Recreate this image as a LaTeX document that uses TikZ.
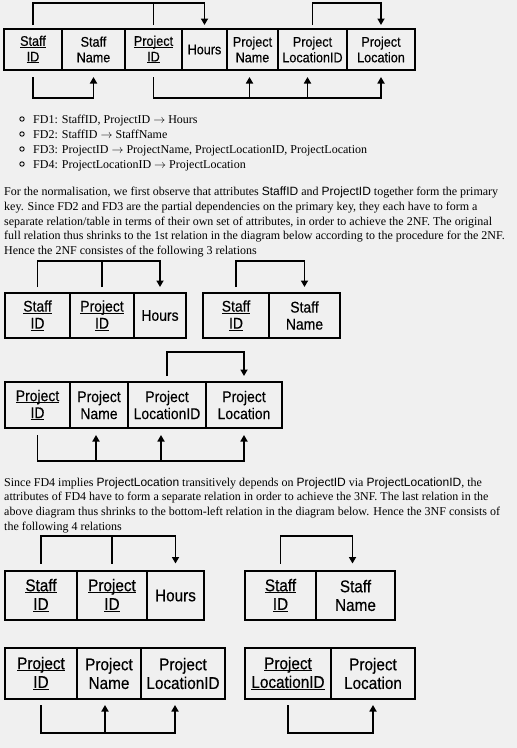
\documentclass[tikz,border=0pt]{standalone}
\usepackage{xcolor}
\usepackage{fontspec}
\setmainfont{Liberation Serif}
\setsansfont{Liberation Sans}
\newfontfamily\cellfont[FakeStretch=0.9,FakeBold=0.4]{Liberation Sans}
\usetikzlibrary{positioning,calc,arrows.meta}

\definecolor{pagebg}{RGB}{240,240,240}

% key attributes are underlined at a fixed depth
\newsavebox\keybox
\newcommand\keyattr[1]{\sbox\keybox{#1}\rlap{\rule[-0.13em]{\wd\keybox}{0.065em}}\usebox\keybox}
\newcommand\fdto{\ $\rightarrow$\ }

\tikzset{
  cell/.style={draw, line width=2pt, inner sep=0pt, outer sep=0pt, align=center},
  fd/.style={line width=1.8pt, -{Triangle[length=6.5pt,width=7pt]}},
  fdline/.style={line width=1.8pt},
  textline/.style={anchor=base west, inner sep=0pt, font=\fontsize{12}{14}\selectfont},
}

\begin{document}
\begin{tikzpicture}[x=1pt, y=-1pt]
  \fill[pagebg] (0,0) rectangle (517,748);
  \useasboundingbox (0,0) rectangle (517,748);

  % full relation
  \begin{scope}[cell/.append style={minimum height=41pt, font=\cellfont\fontsize{14}{15.6}\selectfont}]
    \node[cell, minimum width=58pt, anchor=west] (sid) at (4,49.5) {\keyattr{Staff}\\\keyattr{ID}};
    \node[cell, minimum width=63pt, right=0pt of sid] (snm) {Staff\\Name};
    \node[cell, minimum width=57pt, right=0pt of snm] (pid) {\keyattr{Project}\\\keyattr{ID}};
    \node[cell, minimum width=45pt, right=0pt of pid] (hrs) {Hours};
    \node[cell, minimum width=51pt, right=0pt of hrs] (pnm) {Project\\Name};
    \node[cell, minimum width=69pt, right=0pt of pnm] (plid) {Project\\LocationID};
    \node[cell, minimum width=68pt, right=0pt of plid] (ploc) {Project\\Location};
  \end{scope}
  \draw[fd, shorten <=4pt, shorten >=4pt] (sid.north) -- ++(0,-26) -| (hrs.north);
  \draw[fdline, shorten <=4pt] (pid.north) -- ++(0,-26);
  \draw[fd, shorten <=4pt, shorten >=4pt] (plid.north) -- ++(0,-26) -| (ploc.north);
  \draw[fd, shorten <=7pt, shorten >=7pt] (sid.south) -- ++(0,28) -| (snm.south);
  \draw[fd, shorten <=7pt, shorten >=7pt] (pid.south) -- ++(0,28) -| (ploc.south);
  \draw[fd, shorten >=7pt] ($(pnm.south)+(-3,28)$) -- ($(pnm.south)+(-3,0)$);
  \draw[fd, shorten >=7pt] ($(plid.south)+(-5,28)$) -- ($(plid.south)+(-5,0)$);

  % functional dependencies
  \foreach \y in {119,134,149,164}
    \draw[line width=0.9pt] (22,\y) circle (2.2pt);
  \node[textline] (fd1) at (33,123) {FD1: StaffID, ProjectID\fdto Hours};
  \node[textline] (fd2) at (33,138) {FD2: StaffID\fdto StaffName};
  \node[textline] (fd3) at (33,153) {FD3: ProjectID\fdto ProjectName, ProjectLocationID, ProjectLocation};
  \node[textline] (fd4) at (33,168) {FD4: ProjectLocationID\fdto ProjectLocation};

  % 2NF text
  \node[textline] (twoa) at (4,195.5) {For the normalisation, we first observe that attributes \textsf{StaffID} and \textsf{ProjectID} together form the primary};
  \node[textline] (twob) at (4,210.3) {key. Since FD2 and FD3 are the partial dependencies on the primary key, they each have to form a};
  \node[textline] (twoc) at (4,225.1) {separate relation/table in terms of their own set of attributes, in order to achieve the 2NF. The original};
  \node[textline] (twod) at (4,239.9) {full relation thus shrinks to the 1st relation in the diagram below according to the procedure for the 2NF.};
  \node[textline] (twoe) at (4,254.7) {Hence the 2NF consistes of the following 3 relations};

  % 2NF relations
  \begin{scope}[cell/.append style={minimum height=45pt, font=\cellfont\fontsize{15.5}{17}\selectfont}]
    \node[cell, minimum width=65pt, anchor=west] (sidA) at (5,315.5) {\keyattr{Staff}\\\keyattr{ID}};
    \node[cell, minimum width=64pt, right=0pt of sidA] (pidA) {\keyattr{Project}\\\keyattr{ID}};
    \node[cell, minimum width=52pt, right=0pt of pidA] (hrsA) {Hours};
    \node[cell, minimum width=66pt, anchor=west] (sidB) at (203,315.5) {\keyattr{Staff}\\\keyattr{ID}};
    \node[cell, minimum width=71pt, right=0pt of sidB] (snmB) {Staff\\Name};
  \end{scope}
  \draw[fd, shorten <=6pt, shorten >=6pt] (sidA.north) -- ++(0,-32) -| (hrsA.north);
  \draw[fdline, shorten <=6pt] (pidA.north) -- ++(0,-32);
  \draw[fd, shorten <=6pt, shorten >=6pt] (sidB.north) -- ++(0,-32) -| (snmB.north);

  \begin{scope}[cell/.append style={minimum height=46pt, font=\cellfont\fontsize{15.5}{17}\selectfont}]
    \node[cell, minimum width=65pt, anchor=west] (pidC) at (5,405) {\keyattr{Project}\\\keyattr{ID}};
    \node[cell, minimum width=58pt, right=0pt of pidC] (pnmC) {Project\\Name};
    \node[cell, minimum width=78pt, right=0pt of pnmC] (plidC) {Project\\LocationID};
    \node[cell, minimum width=76pt, right=0pt of plidC] (plocC) {Project\\Location};
  \end{scope}
  \draw[fd, shorten <=6pt, shorten >=6pt] (plidC.north) -- ++(0,-30) -| (plocC.north);
  \draw[fd, shorten <=7pt, shorten >=7pt] (pidC.south) -- ++(0,33) -| (plocC.south);
  \draw[fd, shorten >=7pt] ($(pnmC.south)+(-3,33)$) -- ($(pnmC.south)+(-3,0)$);
  \draw[fd, shorten >=7pt] ($(plidC.south)+(-6,33)$) -- ($(plidC.south)+(-6,0)$);

  % 3NF text
  \node[textline] (threea) at (4,486) {Since FD4 implies \textsf{ProjectLocation} transitively depends on \textsf{ProjectID} via \textsf{ProjectLocationID}, the};
  \node[textline] (threeb) at (4,500.8) {attributes of FD4 have to form a separate relation in order to achieve the 3NF. The last relation in the};
  \node[textline] (threec) at (4,515.6) {above diagram thus shrinks to the bottom-left relation in the diagram below. Hence the 3NF consists of};
  \node[textline] (threed) at (4,530.4) {the following 4 relations};

  % 3NF relations
  \begin{scope}[cell/.append style={minimum height=49pt, font=\cellfont\fontsize{17}{18.7}\selectfont}]
    \node[cell, minimum width=72pt, anchor=west] (sidD) at (5,595.5) {\keyattr{Staff}\\\keyattr{ID}};
    \node[cell, minimum width=70pt, right=0pt of sidD] (pidD) {\keyattr{Project}\\\keyattr{ID}};
    \node[cell, minimum width=57pt, right=0pt of pidD] (hrsD) {Hours};
    \node[cell, minimum width=71pt, anchor=west] (sidE) at (245,595.5) {\keyattr{Staff}\\\keyattr{ID}};
    \node[cell, minimum width=79pt, right=0pt of sidE] (snmE) {Staff\\Name};
  \end{scope}
  \draw[fd, shorten <=7.5pt, shorten >=7.5pt] (sidD.north) -- ++(0,-35) -| (hrsD.north);
  \draw[fdline, shorten <=7.5pt] (pidD.north) -- ++(0,-35);
  \draw[fd, shorten <=7.5pt, shorten >=7.5pt] (sidE.north) -- ++(0,-35) -| ($(snmE.north)+(-3,0)$);

  \begin{scope}[cell/.append style={minimum height=51pt, font=\cellfont\fontsize{17}{18.7}\selectfont}]
    \node[cell, minimum width=72pt, anchor=west] (pidF) at (5,673.5) {\keyattr{Project}\\\keyattr{ID}};
    \node[cell, minimum width=64pt, right=0pt of pidF] (pnmF) {Project\\Name};
    \node[cell, minimum width=84pt, right=0pt of pnmF] (plidF) {Project\\LocationID};
    \node[cell, minimum width=86pt, anchor=west] (plidG) at (245,673.5) {\keyattr{Project}\\\keyattr{LocationID}};
    \node[cell, minimum width=84pt, right=0pt of plidG] (plocG) {Project\\Location};
  \end{scope}
  \draw[fd, shorten <=6pt, shorten >=6pt] (pidF.south) -- ++(0,34) -| ($(plidF.south)+(-8,0)$);
  \draw[fd, shorten >=6pt] ($(pnmF.south)+(-4,34)$) -- ($(pnmF.south)+(-4,0)$);
  \draw[fd, shorten <=6pt, shorten >=6pt] (plidG.south) -- ++(0,34) -| (plocG.south);
\end{tikzpicture}
\end{document}
